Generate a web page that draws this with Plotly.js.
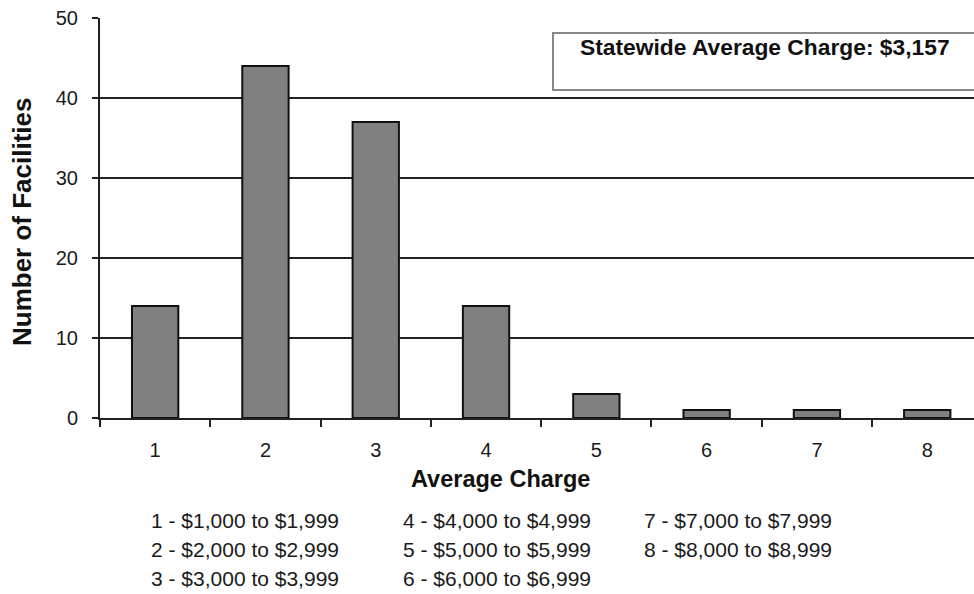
<!DOCTYPE html>
<html>
<head>
<meta charset="utf-8">
<script src="https://cdn.plot.ly/plotly-3.0.1.min.js"></script>
<style>
  html, body { margin: 0; padding: 0; background: #fff; }
  #chart { width: 974px; height: 594px; }
</style>
</head>
<body>
<div id="chart"></div>
<script>
// ---- data ----
const categories = ["1", "2", "3", "4", "5", "6", "7", "8"];
const facilities = [14, 44, 37, 14, 3, 1, 1, 1];
const yTicks = [0, 10, 20, 30, 40, 50];
const legendCol1 = ["1 - $1,000 to $1,999", "2 - $2,000 to $2,999", "3 - $3,000 to $3,999"];
const legendCol2 = ["4 - $4,000 to $4,999", "5 - $5,000 to $5,999", "6 - $6,000 to $6,999"];
const legendCol3 = ["7 - $7,000 to $7,999", "8 - $8,000 to $8,999"];
const boxText = "Statewide Average Charge: $3,157";
const xTitle = "Average Charge";
const yTitle = "Number of Facilities";

// ---- layout helpers (pixel -> paper) ----
const L = 100, T = 18, W = 874, H = 400;
const px = x => (x - L) / W;
const py = y => (T + H - y) / H;
const FONT = "Liberation Sans, Arial, Helvetica, sans-serif";

const annotations = [];
const cols = [[legendCol1, 149], [legendCol2, 401], [legendCol3, 642]];
const rowsY = [520, 549, 578];
cols.forEach(([items, x]) => {
  items.forEach((t, i) => {
    annotations.push({
      xref: "paper", yref: "paper", x: px(x), y: py(rowsY[i]),
      xanchor: "left", yanchor: "middle", showarrow: false, text: t,
      font: { family: FONT, size: 21, color: "#1a1a1a" }
    });
  });
});
annotations.push({
  xref: "paper", yref: "paper", x: px(765), y: py(47),
  xanchor: "center", yanchor: "middle", showarrow: false, text: "<b>" + boxText + "</b>",
  font: { family: FONT, size: 22.8, color: "#111" }
});
annotations.push({
  xref: "paper", yref: "paper", x: px(500), y: py(479),
  xanchor: "center", yanchor: "middle", showarrow: false, text: "<b>" + xTitle + "</b>",
  font: { family: FONT, size: 23.5, color: "#111" }
});
annotations.push({
  xref: "paper", yref: "paper", x: px(22), y: py(222),
  xanchor: "center", yanchor: "middle", showarrow: false, textangle: -90,
  text: "<b>" + yTitle + "</b>",
  font: { family: FONT, size: 26, color: "#111" }
});

const trace = {
  type: "bar",
  x: categories,
  y: facilities,
  marker: { color: "#808080", line: { color: "#111", width: 2 } },
  hoverinfo: "skip"
};

const layout = {
  width: 974, height: 594,
  margin: { l: L, r: 0, t: T, b: 594 - T - H, pad: 0 },
  paper_bgcolor: "#fff", plot_bgcolor: "#fff",
  showlegend: false,
  bargap: 0.58,
  font: { family: FONT, size: 20, color: "#1a1a1a" },
  xaxis: {
    type: "category",
    range: [-0.5, 7.424],
    tickson: "boundaries",
    ticks: "outside", ticklen: 7, tickwidth: 2, tickcolor: "#222",
    showline: true, linecolor: "#222", linewidth: 2,
    showgrid: false, zeroline: false,
    ticklabelstandoff: 13,
    tickfont: { family: FONT, size: 20, color: "#1a1a1a" },
    fixedrange: true
  },
  yaxis: {
    range: [0, 50],
    tickvals: yTicks,
    ticks: "outside", ticklen: 6, tickwidth: 2, tickcolor: "#222",
    showline: true, linecolor: "#222", linewidth: 2,
    showgrid: true, gridcolor: "#222", gridwidth: 2,
    zeroline: false,
    ticklabelstandoff: 10,
    tickfont: { family: FONT, size: 20, color: "#1a1a1a" },
    fixedrange: true
  },
  shapes: [{
    type: "rect", xref: "paper", yref: "paper",
    x0: px(553), x1: px(990), y0: py(90), y1: py(33),
    line: { color: "#888", width: 2 }, fillcolor: "#fff", layer: "above"
  }],
  annotations: annotations
};

Plotly.newPlot("chart", [trace], layout, { displayModeBar: false, staticPlot: true });
</script>
</body>
</html>
